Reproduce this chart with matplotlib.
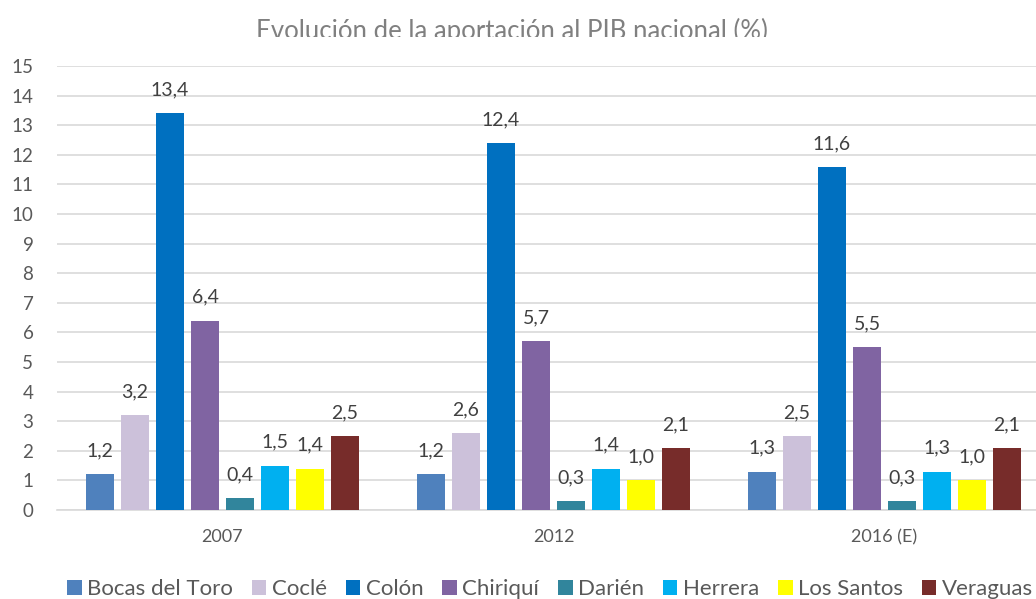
import matplotlib
matplotlib.use("Agg")
from matplotlib import pyplot as plt
from matplotlib.patches import Patch
from matplotlib.transforms import Bbox, TransformedBbox
import numpy as np

years = ["2007", "2012", "2016 (E)"]
provinces = ["Bocas del Toro", "Coclé", "Colón", "Chiriquí", "Darién",
             "Herrera", "Los Santos", "Veraguas"]
colors = ["#4f81bd", "#ccc1da", "#0070c0", "#8064a2", "#31859c",
          "#00b0f0", "#ffff00", "#772c2a"]

bocas = [1.2, 1.2, 1.3]
cocle = [3.2, 2.6, 2.5]
colon = [13.4, 12.4, 11.6]
chiriqui = [6.4, 5.7, 5.5]
darien = [0.4, 0.3, 0.3]
herrera = [1.5, 1.4, 1.3]
los_santos = [1.4, 1.0, 1.0]
veraguas = [2.5, 2.1, 2.1]
series = [bocas, cocle, colon, chiriqui, darien, herrera, los_santos, veraguas]

plt.rcParams['font.family'] = ['Lato', 'DejaVu Sans']

fig = plt.figure(figsize=(10.36, 5.99), dpi=100)
ax = fig.add_axes([57 / 1036, 89 / 599, 993 / 1036, 444 / 599])

x = np.arange(len(years))
step = 0.1057
width = 0.0825
for i, (vals, c) in enumerate(zip(series, colors)):
    pos = x + (i - 3.5) * step
    ax.bar(pos, vals, width, color=c, zorder=3)
    for px, v in zip(pos, vals):
        ax.text(px, v + 0.6, "{:.1f}".format(v).replace(".", ","),
                ha="center", va="baseline", fontsize=14, color="#404040")

ax.set_xlim(-0.5, 2.5)
ax.set_ylim(0, 15)
ax.set_yticks(range(0, 16))
ax.set_xticks(x)
ax.set_xticklabels(years)
ax.grid(axis="y", color="#d9d9d9", linewidth=1.2, zorder=0)
for s in ["top", "right", "left"]:
    ax.spines[s].set_visible(False)
ax.spines["bottom"].set_color("#d9d9d9")
ax.spines["bottom"].set_linewidth(1.2)
ax.tick_params(axis="y", length=0, pad=17, labelsize=13.5, labelcolor="#595959")
ax.tick_params(axis="x", length=0, pad=14, labelsize=13, labelcolor="#595959")

# title is cut off just under its baseline in the source image
title = fig.text(512 / 1036, 1 - 38.5 / 599,
                 "Evolución de la aportación al PIB nacional (%)",
                 ha="center", va="baseline", fontsize=18.5, color="#808080")
title.set_clip_box(TransformedBbox(Bbox([[0, 1 - 37 / 599], [1, 1]]),
                                   fig.transFigure))
title.set_clip_on(True)

handles = [Patch(facecolor=c, label=p) for p, c in zip(provinces, colors)]
fig.legend(handles=handles, loc="center", bbox_to_anchor=(0.531, 0.016),
           ncol=8, frameon=False, fontsize=16, labelcolor="#595959",
           handlelength=0.65, handleheight=0.65, handletextpad=0.25,
           columnspacing=0.85)

fig.savefig("out.png", dpi=100)
